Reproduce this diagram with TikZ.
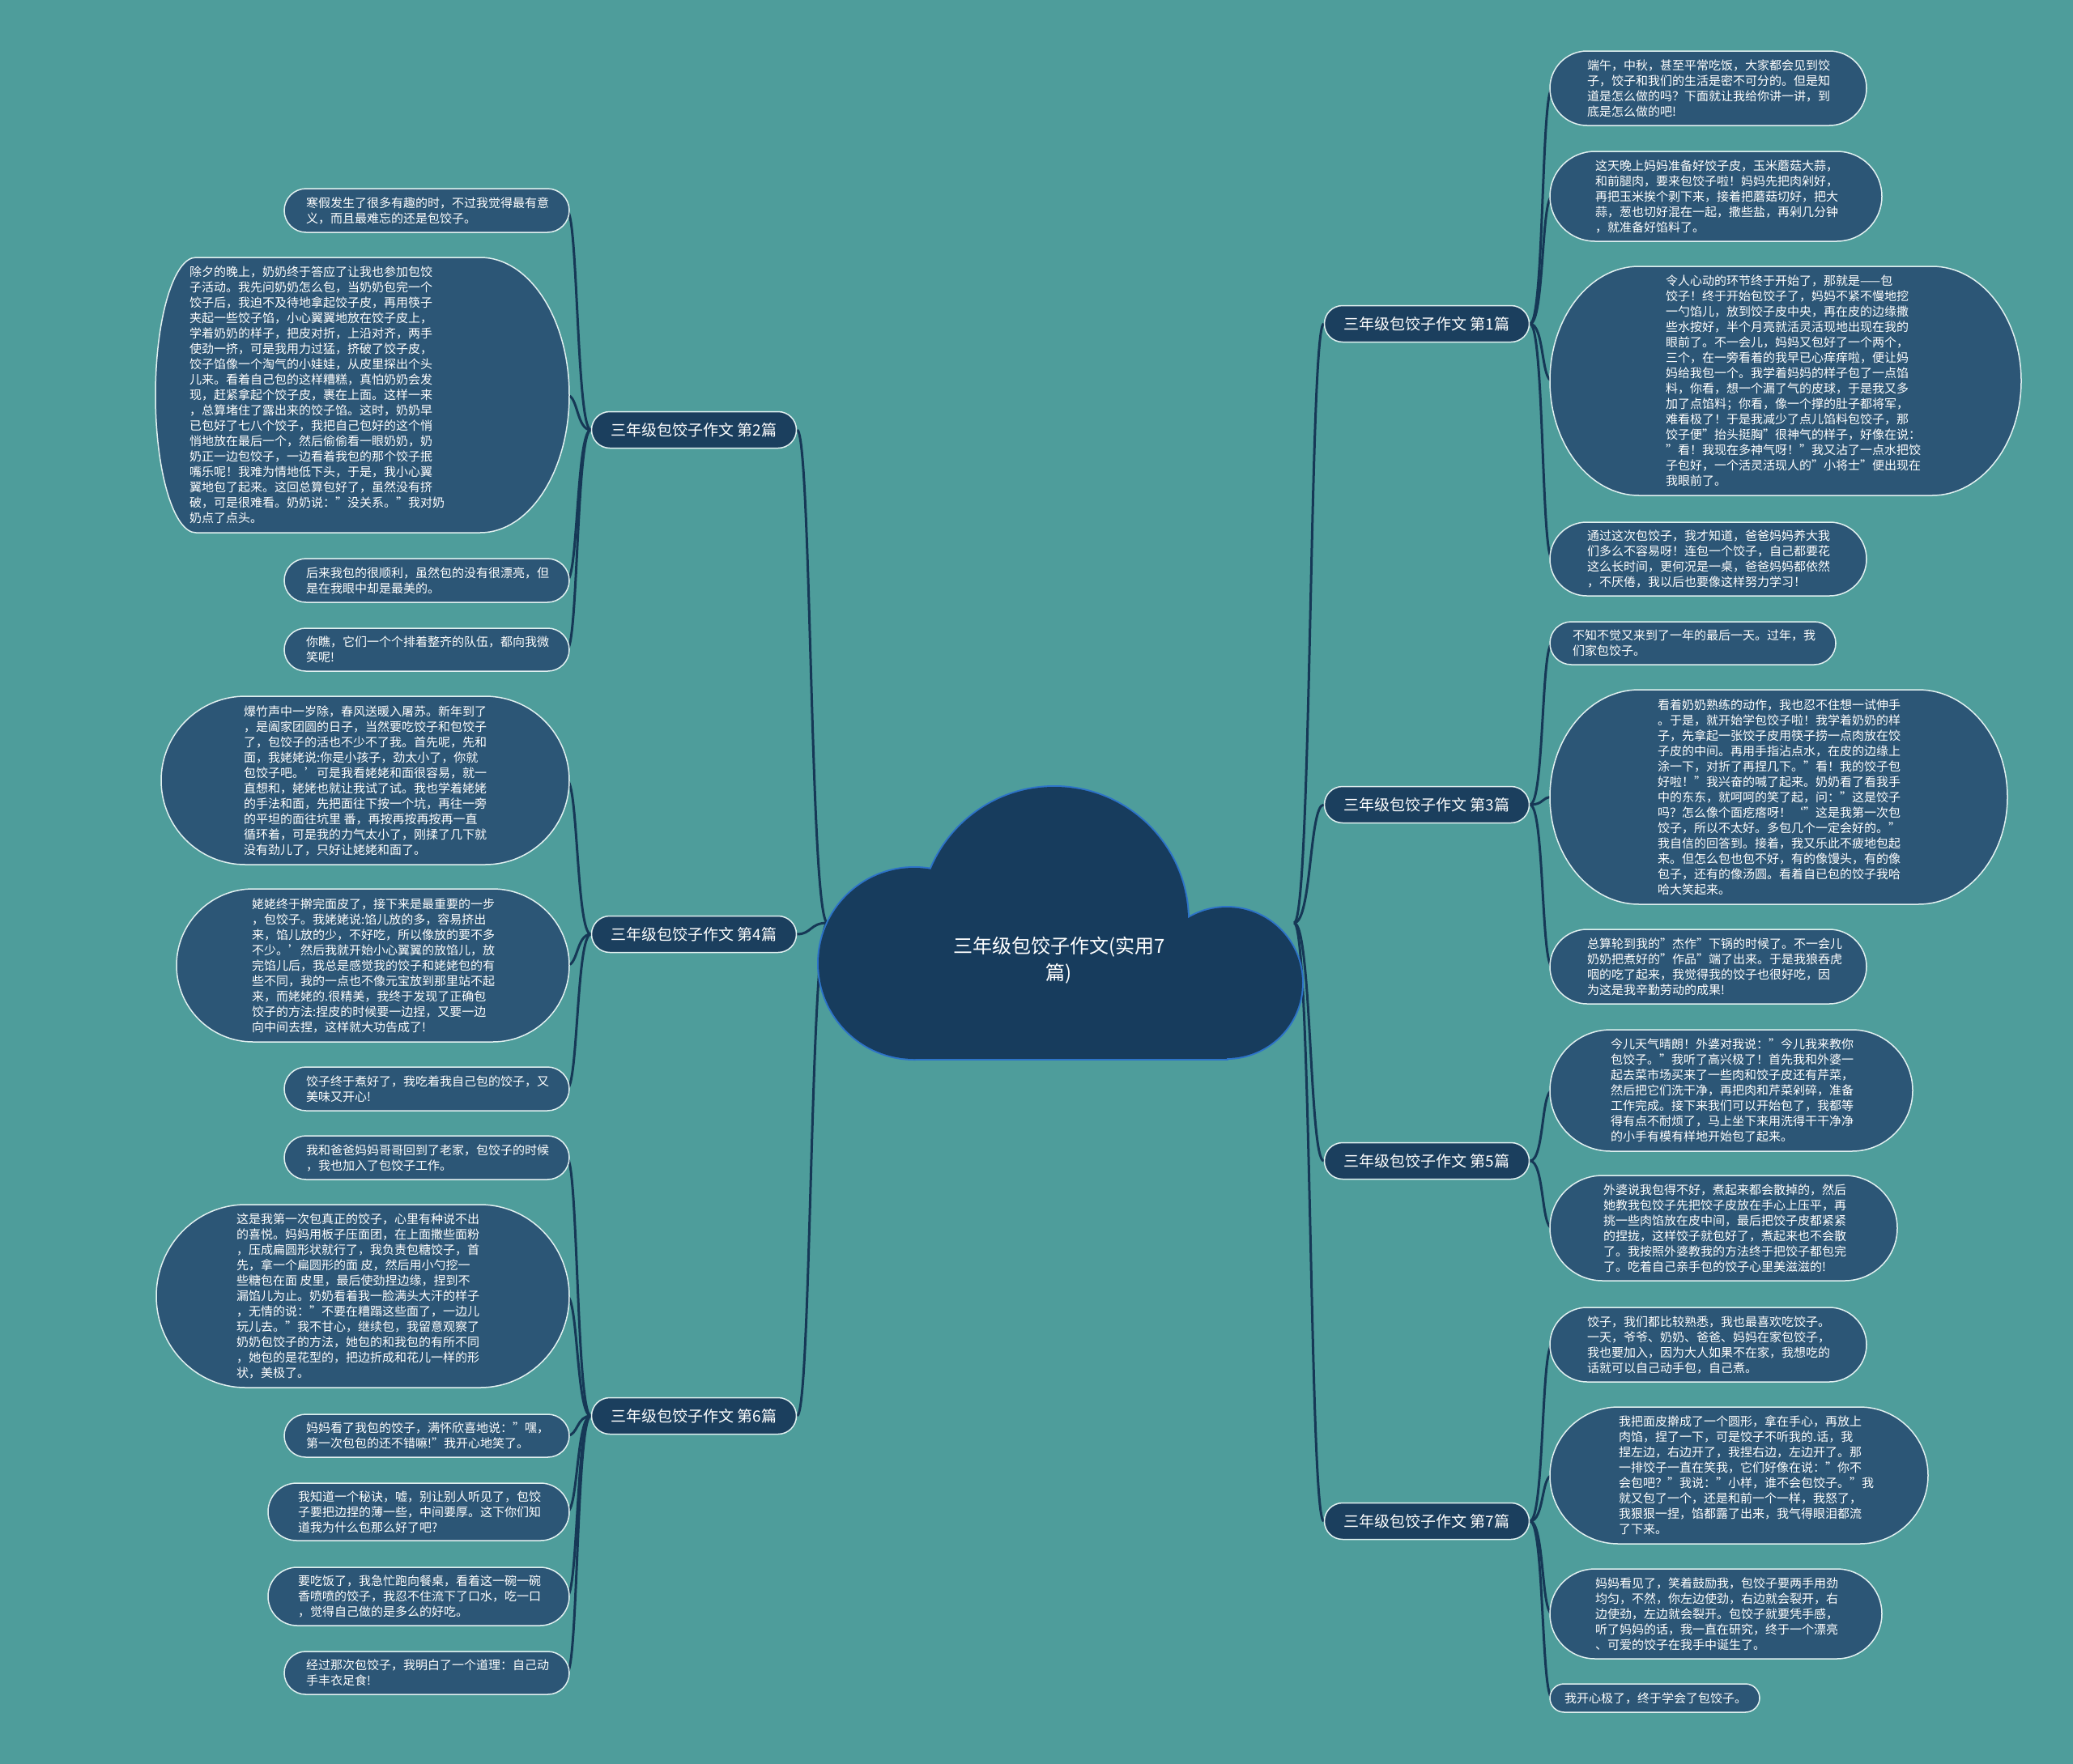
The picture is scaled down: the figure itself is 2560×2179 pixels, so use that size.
\documentclass[tikz,border=0pt]{standalone}
\usepackage{fontspec}
\setmainfont{Noto Sans CJK SC}
\usetikzlibrary{shapes.misc}
\pgfdeclarelayer{back}\pgfdeclarelayer{lines}
\pgfsetlayers{back,lines,main}
\definecolor{bgc}{RGB}{78,157,155}
\definecolor{leaff}{RGB}{44,86,118}
\definecolor{leafb}{RGB}{225,240,240}
\definecolor{brf}{RGB}{27,63,94}
\definecolor{cloudf}{RGB}{23,60,93}
\definecolor{cloudb}{RGB}{45,115,200}
\definecolor{connc}{RGB}{22,56,86}
\tikzset{
  leafshape/.style={fill=leaff,draw=leafb,line width=1.5pt},
  leaftext/.style={font=\fontsize{15}{19}\selectfont,text=white,align=left,inner sep=0pt},
  branch/.style={rounded rectangle,fill=brf,draw=leafb,line width=1.5pt,minimum width=253pt,minimum height=45pt,text=white,font=\fontsize{19}{23}\selectfont,inner sep=0pt},
  conn/.style={draw=connc,line width=3pt},
}
\newcommand\mmleaf[8][110]{%
  \pgfmathsetmacro\lh{(#6-#4)/2}%
  \pgfmathsetmacro\lrx{min(\lh,110)}%
  \pgfmathsetmacro\llx{min(\lh,#1)}%
  \pgfmathsetmacro\lcy{(#4+#6)/2}%
  \path[leafshape] (#3+\llx,#4) -- (#5-\lrx,#4) arc[start angle=90,end angle=-90,x radius=\lrx pt,y radius=\lh pt] -- (#3+\llx,#6) arc[start angle=-90,end angle=-270,x radius=\llx pt,y radius=\lh pt] -- cycle;
  \node[leaftext,anchor=west] (#2) at (#7,\lcy) {#8};
  \coordinate (#2-w) at (#3+3,\lcy);
  \coordinate (#2-e) at (#5-3,\lcy);
}
\newcommand\lconn[2]{\draw[conn] (#1) .. controls +(-18,0) and +(14,0) .. (#2);}
\newcommand\rconn[2]{\draw[conn] (#1) .. controls +(18,0) and +(-14,0) .. (#2);}
\begin{document}
\begin{tikzpicture}[x=1pt,y=-1pt]
\begin{pgfonlayer}{back}
\fill[bgc] (0,0) rectangle (2560,2179);
\end{pgfonlayer}
\useasboundingbox (0,0) rectangle (2560,2179);

% cloud
\path[draw=cloudb,line width=4pt] (1129,1190) circle[radius=118pt];
\path[draw=cloudb,line width=4pt] (1302,1137) circle[radius=165pt];
\path[draw=cloudb,line width=4pt] (1515,1214) circle[radius=93pt];
\path[draw=cloudb,line width=4pt] (1129,1190) rectangle (1515,1308);
\fill[cloudf] (1129,1190) circle[radius=118pt];
\fill[cloudf] (1302,1137) circle[radius=165pt];
\fill[cloudf] (1515,1214) circle[radius=93pt];
\fill[cloudf] (1129,1190) rectangle (1515,1308);
\node[text=white,font=\fontsize{24}{33}\selectfont,align=center,inner sep=0pt] (root) at (1308,1186) {三年级包饺子作文(实用7\\篇)};
\coordinate (cl) at (1022,1140);
\coordinate (cr) at (1598,1140);

% branches
\node[branch] (b2) at (857,531) {三年级包饺子作文 第2篇};
\node[branch] (b4) at (857,1154) {三年级包饺子作文 第4篇};
\node[branch] (b6) at (857,1749) {三年级包饺子作文 第6篇};
\node[branch] (b1) at (1762,400) {三年级包饺子作文 第1篇};
\node[branch] (b3) at (1762,994) {三年级包饺子作文 第3篇};
\node[branch] (b5) at (1762,1434) {三年级包饺子作文 第5篇};
\node[branch] (b7) at (1762,1879) {三年级包饺子作文 第7篇};

% left leaves
\mmleaf{l2a}{351}{233}{703}{287}{378}{寒假发生了很多有趣的时，不过我觉得最有意\\义，而且最难忘的还是包饺子。}
\mmleaf[50]{l2b}{192}{318}{703}{658}{234}{除夕的晚上，奶奶终于答应了让我也参加包饺\\子活动。我先问奶奶怎么包，当奶奶包完一个\\饺子后，我迫不及待地拿起饺子皮，再用筷子\\夹起一些饺子馅，小心翼翼地放在饺子皮上，\\学着奶奶的样子，把皮对折，上沿对齐，两手\\使劲一挤，可是我用力过猛，挤破了饺子皮，\\饺子馅像一个淘气的小娃娃，从皮里探出个头\\儿来。看着自己包的这样糟糕，真怕奶奶会发\\现，赶紧拿起个饺子皮，裹在上面。这样一来\\，总算堵住了露出来的饺子馅。这时，奶奶早\\已包好了七八个饺子，我把自己包好的这个悄\\悄地放在最后一个，然后偷偷看一眼奶奶，奶\\奶正一边包饺子，一边看着我包的那个饺子抿\\嘴乐呢！我难为情地低下头，于是，我小心翼\\翼地包了起来。这回总算包好了，虽然没有挤\\破，可是很难看。奶奶说："没关系。"我对奶\\奶点了点头。}
\mmleaf{l2c}{351}{690}{703}{744}{378}{后来我包的很顺利，虽然包的没有很漂亮，但\\是在我眼中却是最美的。}
\mmleaf{l2d}{351}{776}{703}{829}{378}{你瞧，它们一个个排着整齐的队伍，都向我微\\笑呢!}
\mmleaf{l4a}{199}{860}{703}{1068}{301}{爆竹声中一岁除，春风送暖入屠苏。新年到了\\，是阖家团圆的日子，当然要吃饺子和包饺子\\了，包饺子的活也不少不了我。首先呢，先和\\面，我姥姥说:你是小孩子，劲太小了，你就\\包饺子吧。'可是我看姥姥和面很容易，就一\\直想和，姥姥也就让我试了试。我也学着姥姥\\的手法和面，先把面往下按一个坑，再往一旁\\的平坦的面往坑里 番，再按再按再按再一直\\循环着，可是我的力气太小了，刚揉了几下就\\没有劲儿了，只好让姥姥和面了。}
\mmleaf{l4b}{218}{1098}{703}{1287}{311}{姥姥终于擀完面皮了，接下来是最重要的一步\\，包饺子。我姥姥说:馅儿放的多，容易挤出\\来，馅儿放的少，不好吃，所以像放的要不多\\不少。'然后我就开始小心翼翼的放馅儿，放\\完馅儿后，我总是感觉我的饺子和姥姥包的有\\些不同，我的一点也不像元宝放到那里站不起\\来，而姥姥的.很精美，我终于发现了正确包\\饺子的方法:捏皮的时候要一边捏，又要一边\\向中间去捏，这样就大功告成了!}
\mmleaf{l4c}{351}{1318}{703}{1372}{378}{饺子终于煮好了，我吃着我自己包的饺子，又\\美味又开心!}
\mmleaf{l6a}{351}{1403}{703}{1457}{378}{我和爸爸妈妈哥哥回到了老家，包饺子的时候\\，我也加入了包饺子工作。}
\mmleaf{l6b}{193}{1488}{703}{1714}{292}{这是我第一次包真正的饺子，心里有种说不出\\的喜悦。妈妈用板子压面团，在上面撒些面粉\\，压成扁圆形状就行了，我负责包糖饺子，首\\先，拿一个扁圆形的面 皮，然后用小勺挖一\\些糖包在面 皮里，最后使劲捏边缘，捏到不\\漏馅儿为止。奶奶看着我一脸满头大汗的样子\\，无情的说："不要在糟蹋这些面了，一边儿\\玩儿去。"我不甘心，继续包，我留意观察了\\奶奶包饺子的方法，她包的和我包的有所不同\\，她包的是花型的，把边折成和花儿一样的形\\状，美极了。}
\mmleaf{l6c}{351}{1747}{703}{1800}{378}{妈妈看了我包的饺子，满怀欣喜地说："嘿，\\第一次包包的还不错嘛!"我开心地笑了。}
\mmleaf{l6d}{331}{1832}{703}{1903}{368}{我知道一个秘诀，嘘，别让别人听见了，包饺\\子要把边捏的薄一些，中间要厚。这下你们知\\道我为什么包那么好了吧?}
\mmleaf{l6e}{331}{1936}{703}{2008}{368}{要吃饭了，我急忙跑向餐桌，看着这一碗一碗\\香喷喷的饺子，我忍不住流下了口水，吃一口\\，觉得自己做的是多么的好吃。}
\mmleaf{l6f}{351}{2040}{703}{2093}{378}{经过那次包饺子，我明白了一个道理：自己动\\手丰衣足食!}

% right leaves
\mmleaf{r1a}{1914}{63}{2305}{155}{1960}{端午，中秋，甚至平常吃饭，大家都会见到饺\\子，饺子和我们的生活是密不可分的。但是知\\道是怎么做的吗？下面就让我给你讲一讲，到\\底是怎么做的吧!}
\mmleaf{r1b}{1914}{187}{2324}{298}{1970}{这天晚上妈妈准备好饺子皮，玉米蘑菇大蒜，\\和前腿肉，要来包饺子啦！妈妈先把肉剁好，\\再把玉米挨个剥下来，接着把蘑菇切好，把大\\蒜，葱也切好混在一起，撒些盐，再剁几分钟\\，就准备好馅料了。}
\mmleaf{r1c}{1914}{329}{2496}{612}{2057}{令人心动的环节终于开始了，那就是——包\\饺子！终于开始包饺子了，妈妈不紧不慢地挖\\一勺馅儿，放到饺子皮中央，再在皮的边缘撒\\些水按好，半个月亮就活灵活现地出现在我的\\眼前了。不一会儿，妈妈又包好了一个两个，\\三个，在一旁看着的我早已心痒痒啦，便让妈\\妈给我包一个。我学着妈妈的样子包了一点馅\\料，你看，想一个漏了气的皮球，于是我又多\\加了点馅料；你看，像一个撑的肚子都将军，\\难看极了！于是我减少了点儿馅料包饺子，那\\饺子便"抬头挺胸"很神气的样子，好像在说：\\"看！我现在多神气呀！"我又沾了一点水把饺\\子包好，一个活灵活现人的"小将士"便出现在\\我眼前了。}
\mmleaf{r1d}{1914}{645}{2305}{736}{1960}{通过这次包饺子，我才知道，爸爸妈妈养大我\\们多么不容易呀！连包一个饺子，自己都要花\\这么长时间，更何况是一桌，爸爸妈妈都依然\\，不厌倦，我以后也要像这样努力学习！}
\mmleaf{r3a}{1914}{768}{2267}{821}{1942}{不知不觉又来到了一年的最后一天。过年，我\\们家包饺子。}
\mmleaf{r3b}{1914}{852}{2479}{1117}{2047}{看着奶奶熟练的动作，我也忍不住想一试伸手\\。于是，就开始学包饺子啦！我学着奶奶的样\\子，先拿起一张饺子皮用筷子捞一点肉放在饺\\子皮的中间。再用手指沾点水，在皮的边缘上\\涂一下，对折了再捏几下。"看！我的饺子包\\好啦！"我兴奋的喊了起来。奶奶看了看我手\\中的东东，就呵呵的笑了起，问："这是饺子\\吗？怎么像个面疙瘩呀！‘"这是我第一次包\\饺子，所以不太好。多包几个一定会好的。"\\我自信的回答到。接着，我又乐此不疲地包起\\来。但怎么包也包不好，有的像馒头，有的像\\包子，还有的像汤圆。看着自已包的饺子我哈\\哈大笑起来。}
\mmleaf{r3c}{1914}{1148}{2305}{1240}{1960}{总算轮到我的"杰作"下锅的时候了。不一会儿\\奶奶把煮好的"作品"端了出来。于是我狼吞虎\\咽的吃了起来，我觉得我的饺子也很好吃，因\\为这是我辛勤劳动的成果!}
\mmleaf{r5a}{1914}{1272}{2362}{1422}{1989}{今儿天气晴朗！外婆对我说："今儿我来教你\\包饺子。"我听了高兴极了！首先我和外婆一\\起去菜市场买来了一些肉和饺子皮还有芹菜，\\然后把它们洗干净，再把肉和芹菜剁碎，准备\\工作完成。接下来我们可以开始包了，我都等\\得有点不耐烦了，马上坐下来用洗得干干净净\\的小手有模有样地开始包了起来。}
\mmleaf{r5b}{1914}{1452}{2343}{1582}{1980}{外婆说我包得不好，煮起来都会散掉的，然后\\她教我包饺子先把饺子皮放在手心上压平，再\\挑一些肉馅放在皮中间，最后把饺子皮都紧紧\\的捏拢，这样饺子就包好了，煮起来也不会散\\了。我按照外婆教我的方法终于把饺子都包完\\了。吃着自己亲手包的饺子心里美滋滋的!}
\mmleaf{r7a}{1914}{1615}{2305}{1707}{1960}{饺子，我们都比较熟悉，我也最喜欢吃饺子。\\一天，爷爷、奶奶、爸爸、妈妈在家包饺子，\\我也要加入，因为大人如果不在家，我想吃的\\话就可以自己动手包，自己煮。}
\mmleaf{r7b}{1914}{1738}{2381}{1907}{1999}{我把面皮擀成了一个圆形，拿在手心，再放上\\肉馅，捏了一下，可是饺子不听我的.话，我\\捏左边，右边开了，我捏右边，左边开了。那\\一排饺子一直在笑我，它们好像在说："你不\\会包吧？"我说："小样，谁不会包饺子。"我\\就又包了一个，还是和前一个一样，我怒了，\\我狠狠一捏，馅都露了出来，我气得眼泪都流\\了下来。}
\mmleaf{r7c}{1914}{1938}{2324}{2049}{1970}{妈妈看见了，笑着鼓励我，包饺子要两手用劲\\均匀，不然，你左边使劲，右边就会裂开，右\\边使劲，左边就会裂开。包饺子就要凭手感，\\听了妈妈的话，我一直在研究，终于一个漂亮\\、可爱的饺子在我手中诞生了。}
\mmleaf{r7d}{1914}{2080}{2173}{2115}{1932}{我开心极了，终于学会了包饺子。}

\begin{pgfonlayer}{lines}
\draw[conn] (cl) .. controls +(-22,0) and +(18,0) .. (b2.east);
\draw[conn] (cl) .. controls +(-22,0) and +(18,0) .. (b4.east);
\draw[conn] (cl) .. controls +(-22,0) and +(18,0) .. (b6.east);
\draw[conn] (cr) .. controls +(22,0) and +(-18,0) .. (b1.west);
\draw[conn] (cr) .. controls +(22,0) and +(-18,0) .. (b3.west);
\draw[conn] (cr) .. controls +(22,0) and +(-18,0) .. (b5.west);
\draw[conn] (cr) .. controls +(22,0) and +(-18,0) .. (b7.west);
\lconn{b2.west}{l2a-e}\lconn{b2.west}{l2b-e}\lconn{b2.west}{l2c-e}\lconn{b2.west}{l2d-e}
\lconn{b4.west}{l4a-e}\lconn{b4.west}{l4b-e}\lconn{b4.west}{l4c-e}
\lconn{b6.west}{l6a-e}\lconn{b6.west}{l6b-e}\lconn{b6.west}{l6c-e}\lconn{b6.west}{l6d-e}\lconn{b6.west}{l6e-e}\lconn{b6.west}{l6f-e}
\rconn{b1.east}{r1a-w}\rconn{b1.east}{r1b-w}\rconn{b1.east}{r1c-w}\rconn{b1.east}{r1d-w}
\rconn{b3.east}{r3a-w}\rconn{b3.east}{r3b-w}\rconn{b3.east}{r3c-w}
\rconn{b5.east}{r5a-w}\rconn{b5.east}{r5b-w}
\rconn{b7.east}{r7a-w}\rconn{b7.east}{r7b-w}\rconn{b7.east}{r7c-w}\rconn{b7.east}{r7d-w}
\end{pgfonlayer}
\end{tikzpicture}
\end{document}
